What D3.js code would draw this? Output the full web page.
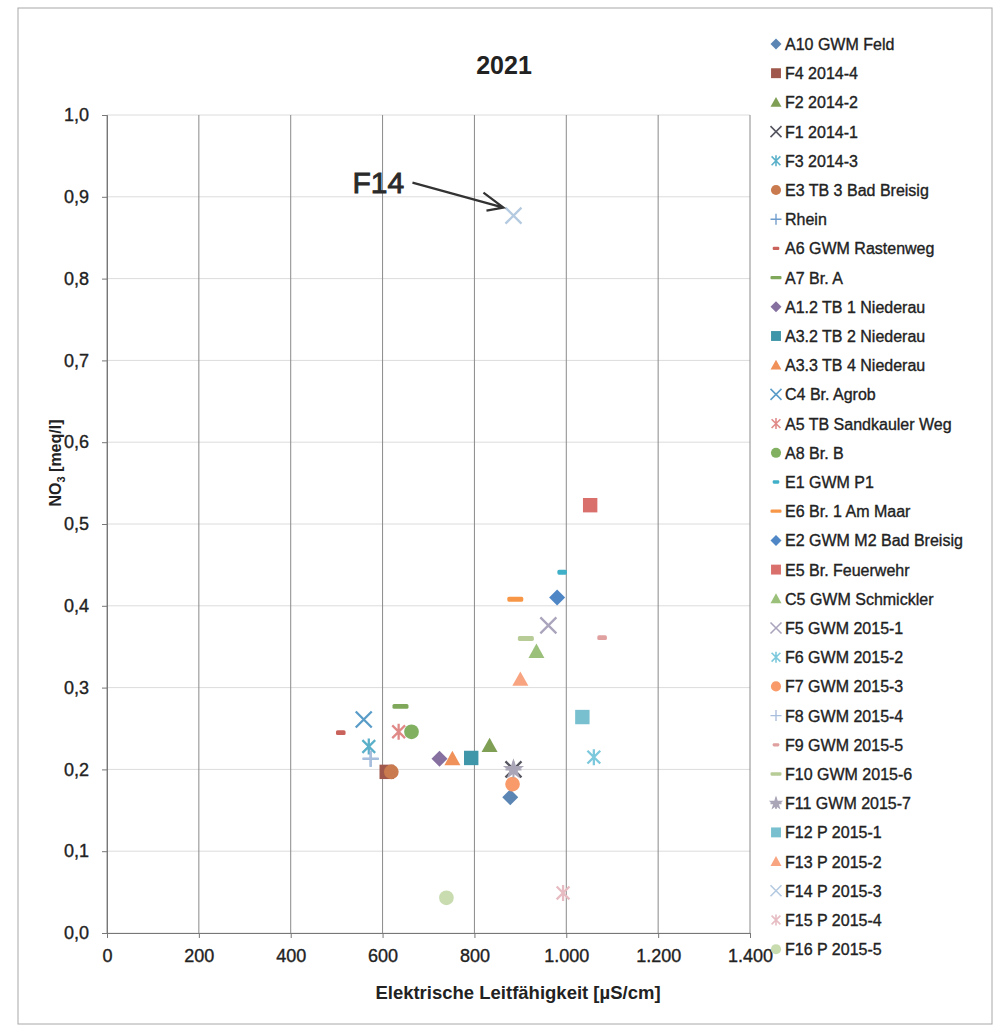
<!DOCTYPE html>
<html>
<head>
<meta charset="utf-8">
<script src="https://cdn.jsdelivr.net/npm/d3@7"></script>
<style>
  body { margin: 0; background: #fff; }
  text { font-family: "Liberation Sans", Arial, sans-serif; }
</style>
</head>
<body>
<div id="chart"></div>
<script>
// series as they appear in the legend
var seriesNames = ["A10 GWM Feld", "F4 2014-4", "F2 2014-2", "F1 2014-1", "F3 2014-3",
    "E3 TB 3 Bad Breisig", "Rhein", "A6 GWM Rastenweg", "A7 Br. A", "A1.2 TB 1 Niederau",
    "A3.2 TB 2 Niederau", "A3.3 TB 4 Niederau", "C4 Br. Agrob", "A5 TB Sandkauler Weg", "A8 Br. B",
    "E1 GWM P1", "E6 Br. 1 Am Maar", "E2 GWM M2 Bad Breisig", "E5 Br. Feuerwehr", "C5 GWM Schmickler",
    "F5 GWM 2015-1", "F6 GWM 2015-2", "F7 GWM 2015-3", "F8 GWM 2015-4", "F9 GWM 2015-5",
    "F10 GWM 2015-6", "F11 GWM 2015-7", "F12 P 2015-1", "F13 P 2015-2", "F14 P 2015-3",
    "F15 P 2015-4", "F16 P 2015-5"];

// Elektrische Leitfaehigkeit [uS/cm]
var leitValues = [878, 609, 833, 885, 570,
    619, 574, 509, 639, 724,
    793, 752, 559, 635, 663,
    991, 889, 980, 1052, 935,
    961, 1060, 883, 574, 1078,
    912, 885, 1035, 900, 885,
    993, 739];

// NO3 [meq/l]
var no3Values = [0.166, 0.197, 0.229, 0.200, 0.228,
    0.197, 0.213, 0.245, 0.277, 0.213,
    0.214, 0.213, 0.261, 0.246, 0.246,
    0.441, 0.408, 0.410, 0.523, 0.344,
    0.376, 0.215, 0.182, 0.213, 0.361,
    0.360, 0.200, 0.264, 0.310, 0.877,
    0.049, 0.043];

var xTicks = [0, 200, 400, 600, 800, 1000, 1200, 1400];
var yTicks = [0, 0.1, 0.2, 0.3, 0.4, 0.5, 0.6, 0.7, 0.8, 0.9, 1.0];

var annotationLabel = "F14";
var annotationIndex = 29;

// marker shape + colour per series (style, kept apart from the values)
var markerShape = ["diamond", "square", "triangle", "x", "asterisk",
    "circle", "plus", "dash", "longdash", "diamond",
    "square", "triangle", "x", "asterisk", "circle",
    "dash", "longdash", "diamond", "square", "triangle",
    "x", "asterisk", "circle", "plus", "dash",
    "longdash", "star", "square", "triangle", "x",
    "asterisk", "circle"];
var markerColor = ["#5b86b4", "#a0584c", "#7f9f55", "#555560", "#5ab0c8",
    "#c97a4e", "#6e9ccc", "#c9625a", "#7fa85a", "#8670a0",
    "#3f96a8", "#f0915a", "#5a9cc8", "#e08a88", "#80b060",
    "#3fb0c8", "#f79646", "#4f86c6", "#d9706c", "#9bc07a",
    "#aaa4bc", "#7cc8dc", "#f89a6a", "#a8bedc", "#e0a0a0",
    "#b8cc98", "#aaa6b8", "#78c0d0", "#f8a480", "#b4cae0",
    "#e6bcc2", "#c8dcb0"];

var width = 994;
var height = 1027;
var margin = { top: 115, right: 244, bottom: 94, left: 107 };

var locale = d3.formatLocale({ decimal: ",", thousands: ".", grouping: [3], currency: ["", " €"] });

var svg = d3.select("#chart").append("svg")
    .attr("width", width)
    .attr("height", height);

// outer frame
svg.append("rect")
    .attr("x", 18).attr("y", 8)
    .attr("width", 974).attr("height", 1016)
    .attr("fill", "none")
    .attr("stroke", "#a8a8a8")
    .attr("stroke-width", 1);

var x = d3.scaleLinear()
    .domain([0, 1400])
    .range([margin.left, width - margin.right]);

var y = d3.scaleLinear()
    .domain([0, 1])
    .range([height - margin.bottom, margin.top]);

// horizontal grid
svg.append("g")
    .selectAll("line")
    .data(yTicks)
    .join("line")
    .attr("x1", x(0)).attr("x2", x(1400))
    .attr("y1", d => y(d)).attr("y2", d => y(d))
    .attr("stroke", "#dcdcdc")
    .attr("stroke-width", 1);

// vertical grid
svg.append("g")
    .selectAll("line")
    .data(xTicks)
    .join("line")
    .attr("x1", d => x(d)).attr("x2", d => x(d))
    .attr("y1", y(0)).attr("y2", y(1))
    .attr("stroke", "#8a8a8a")
    .attr("stroke-width", 1);

// scanned look: text slightly heavier
function inked(sel) {
    sel.attr("fill", "#222").attr("stroke", "#222").attr("stroke-width", 0.35);
}

// axes
svg.append("g")
    .attr("transform", `translate(0,${y(0)})`)
    .call(d3.axisBottom(x).tickValues(xTicks).tickSize(5).tickPadding(11).tickFormat(locale.format(",d")))
    .call(g => g.select(".domain").attr("stroke", "#777"))
    .call(g => g.selectAll(".tick line").attr("stroke", "#777"))
    .call(g => g.selectAll("text").attr("font-size", 18)
        .attr("font-family", "Liberation Sans, Arial, sans-serif").call(inked));

svg.append("g")
    .attr("transform", `translate(${x(0)},0)`)
    .call(d3.axisLeft(y).tickValues(yTicks).tickSize(5).tickPadding(13).tickFormat(locale.format(".1f")))
    .call(g => g.select(".domain").attr("stroke", "#777"))
    .call(g => g.selectAll(".tick line").attr("stroke", "#777"))
    .call(g => g.selectAll("text").attr("font-size", 18)
        .attr("font-family", "Liberation Sans, Arial, sans-serif").call(inked));

// title and axis titles
svg.append("text")
    .attr("x", 504).attr("y", 74)
    .attr("text-anchor", "middle")
    .attr("font-size", 25)
    .attr("font-weight", "bold")
    .attr("fill", "#222")
    .text("2021");

svg.append("text")
    .attr("x", 518).attr("y", 999)
    .attr("text-anchor", "middle")
    .attr("font-size", 18.5)
    .attr("font-weight", "bold")
    .attr("fill", "#222")
    .text("Elektrische Leitfähigkeit [µS/cm]");

var yTitle = svg.append("text")
    .attr("transform", "translate(61,463) rotate(-90)")
    .attr("text-anchor", "middle")
    .attr("font-size", 16)
    .attr("font-weight", "bold")
    .attr("fill", "#222");
yTitle.append("tspan").text("NO");
yTitle.append("tspan").attr("font-size", 11).attr("dy", 4).text("3");
yTitle.append("tspan").attr("dy", -4).text(" [meq/l]");

// marker drawing
function drawMarker(g, shape, s, color) {
    var h = s / 2;
    if (shape == "diamond") {
        g.append("path").attr("d", `M0,${-h}L${h},0L0,${h}L${-h},0Z`).attr("fill", color);
    } else if (shape == "square") {
        g.append("rect").attr("x", -h * 0.9).attr("y", -h * 0.9).attr("width", s * 0.9).attr("height", s * 0.9).attr("fill", color);
    } else if (shape == "triangle") {
        g.append("path").attr("d", `M0,${-h}L${h},${h * 0.8}L${-h},${h * 0.8}Z`).attr("fill", color);
    } else if (shape == "circle") {
        g.append("circle").attr("r", h * 0.92).attr("fill", color);
    } else if (shape == "x") {
        g.append("path").attr("d", `M${-h},${-h}L${h},${h}M${h},${-h}L${-h},${h}`)
            .attr("stroke", color).attr("stroke-width", Math.max(1.2, s / 7)).attr("fill", "none");
    } else if (shape == "asterisk") {
        g.append("path").attr("d", `M${-h * 0.8},${-h * 0.8}L${h * 0.8},${h * 0.8}M${h * 0.8},${-h * 0.8}L${-h * 0.8},${h * 0.8}M0,${-h}L0,${h}`)
            .attr("stroke", color).attr("stroke-width", Math.max(1.2, s / 7)).attr("fill", "none");
    } else if (shape == "plus") {
        g.append("path").attr("d", `M${-h},0L${h},0M0,${-h}L0,${h}`)
            .attr("stroke", color).attr("stroke-width", Math.max(1.2, s / 8)).attr("fill", "none");
    } else if (shape == "dash") {
        g.append("rect").attr("x", -h * 0.6).attr("y", -s * 0.15).attr("width", s * 0.6).attr("height", s * 0.3)
            .attr("rx", s * 0.1).attr("fill", color);
    } else if (shape == "longdash") {
        g.append("rect").attr("x", -h).attr("y", -s * 0.15).attr("width", s).attr("height", s * 0.3)
            .attr("rx", s * 0.1).attr("fill", color);
    } else if (shape == "star") {
        g.append("path").attr("d", d3.symbol().type(d3.symbolStar).size(s * s * 0.55)()).attr("fill", color);
        g.append("path").attr("d", `M${-h},0L${h},0M0,${-h}L0,${h}`)
            .attr("stroke", color).attr("stroke-width", 2).attr("fill", "none");
    }
}

// points (drawn in legend order)
var points = svg.append("g");
seriesNames.forEach(function (name, i) {
    var g = points.append("g")
        .attr("transform", `translate(${x(leitValues[i])},${y(no3Values[i])})`);
    drawMarker(g, markerShape[i], 16, markerColor[i]);
});

// annotation arrow to F14
var ax = x(leitValues[annotationIndex]);
var ay = y(no3Values[annotationIndex]);
svg.append("text")
    .attr("x", ax - 161).attr("y", ay - 23)
    .attr("font-size", 30)
    .attr("fill", "#2a2a2a")
    .attr("stroke", "#2a2a2a")
    .attr("stroke-width", 0.9)
    .text(annotationLabel);
var tipX = ax - 10, tipY = ay - 8;
svg.append("path")
    .attr("d", `M${ax - 101},${ay - 33}L${tipX},${tipY}M${tipX - 20},${tipY - 15}L${tipX},${tipY}L${tipX - 17},${tipY + 3}`)
    .attr("fill", "none")
    .attr("stroke", "#333")
    .attr("stroke-width", 2.2)
    .attr("stroke-linejoin", "miter");

// legend
var legend = svg.append("g").attr("transform", "translate(776,44)");
seriesNames.forEach(function (name, i) {
    var row = legend.append("g").attr("transform", `translate(0,${i * 29.2})`);
    drawMarker(row, markerShape[i], 11, markerColor[i]);
    row.append("text")
        .attr("x", 9).attr("y", 6)
        .attr("font-size", 16)
        .call(inked)
        .text(name);
});
</script>
</body>
</html>
